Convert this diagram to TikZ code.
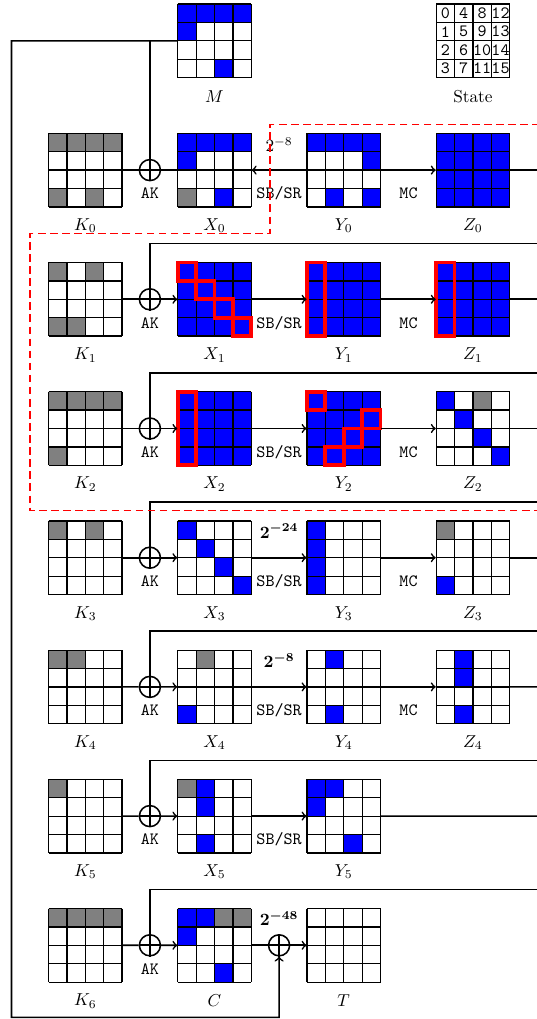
\documentclass[tikz,border=0pt]{standalone}
\usetikzlibrary{calc}
\tikzset{
  gridline/.style={black, line width=0.7pt},
  gridnode/.style={inner sep=0pt, minimum size=42.69pt, draw=none},
  conn/.style={black, line width=0.95pt},
  xorc/.style={circle, draw, line width=0.9pt, minimum size=12.2pt, inner sep=0pt},
  hl/.style={red, line width=2.2pt},
  reddash/.style={red, line width=0.85pt, dash pattern=on 4.4pt off 2.6pt},
  op/.style={font=\ttfamily, inner sep=0pt},
  lbl/.style={inner sep=0pt},
  blbl/.style={inner sep=0pt, font=\boldmath},
}
\newcommand\mkgrid[5]{%
  \begin{scope}[shift={(#2,#3)}]
    \fill[#4] (0,0) rectangle (73.6,73.6);
    \foreach \ri/\ci/\cl in {#5} {\fill[\cl] (\ci*18.4,\ri*18.4) rectangle ++(18.4,18.4);}
    \foreach \ii in {0,...,4} {\draw[gridline] (\ii*18.4,0) -- (\ii*18.4,73.6); \draw[gridline] (0,\ii*18.4) -- (73.6,\ii*18.4);}
  \end{scope}
  \node[gridnode] (#1) at (#2+36.8,#3+36.8) {};
}
\newcommand\hlc[4]{\draw[hl] (#1+#4*18.4,#2+#3*18.4) rectangle ++(18.4,18.4);}
\newcommand\hlcol[3]{\draw[hl] (#1+#3*18.4,#2) rectangle ++(18.4,73.6);}
\begin{document}
\begin{tikzpicture}[x=0.58pt,y=-0.58pt]
\useasboundingbox (0,0) rectangle (536,1019);

% top row
\mkgrid{M}{177.7}{4.1}{white}{0/0/blue,0/1/blue,0/2/blue,0/3/blue,1/0/blue,3/2/blue}
\node[lbl] (lM) at (214.5,96.6) {$M$};
\mkgrid{S}{436.1}{4.1}{white}{0/0/white}
\foreach \ci in {0,...,3} {\foreach \ri in {0,...,3} {
  \pgfmathtruncatemacro\nn{4*\ci+\ri}
  \node[op] (s\nn) at ({436.1+\ci*18.4+9.2},{4.1+\ri*18.4+9.2}) {\nn};}}
\node[lbl] (lS) at (472.9,96.6) {State};

% row 0
\mkgrid{K0}{48.5}{133.3}{white}{0/0/gray,0/1/gray,0/2/gray,0/3/gray,3/0/gray,3/2/gray}
\mkgrid{X0}{177.7}{133.3}{white}{0/0/blue,0/1/blue,0/2/blue,0/3/blue,1/0/blue,3/0/gray,3/2/blue}
\mkgrid{Y0}{306.9}{133.3}{white}{0/0/blue,0/1/blue,0/2/blue,0/3/blue,1/3/blue,3/1/blue,3/3/blue}
\mkgrid{Z0}{436.1}{133.3}{blue}{0/0/blue}
% row 1
\mkgrid{K1}{48.5}{262.5}{white}{0/0/gray,0/2/gray,3/0/gray,3/1/gray}
\mkgrid{X1}{177.7}{262.5}{blue}{0/0/blue}
\mkgrid{Y1}{306.9}{262.5}{blue}{0/0/blue}
\mkgrid{Z1}{436.1}{262.5}{blue}{0/0/blue}
% row 2
\mkgrid{K2}{48.5}{391.7}{white}{0/0/gray,0/1/gray,0/2/gray,0/3/gray,3/0/gray}
\mkgrid{X2}{177.7}{391.7}{blue}{0/0/blue}
\mkgrid{Y2}{306.9}{391.7}{blue}{0/0/blue}
\mkgrid{Z2}{436.1}{391.7}{white}{0/0/blue,0/2/gray,1/1/blue,2/2/blue,3/3/blue}
% row 3
\mkgrid{K3}{48.5}{520.9}{white}{0/0/gray,0/2/gray}
\mkgrid{X3}{177.7}{520.9}{white}{0/0/blue,1/1/blue,2/2/blue,3/3/blue}
\mkgrid{Y3}{306.9}{520.9}{white}{0/0/blue,1/0/blue,2/0/blue,3/0/blue}
\mkgrid{Z3}{436.1}{520.9}{white}{0/0/gray,3/0/blue}
% row 4
\mkgrid{K4}{48.5}{650.1}{white}{0/0/gray,0/1/gray}
\mkgrid{X4}{177.7}{650.1}{white}{0/1/gray,3/0/blue}
\mkgrid{Y4}{306.9}{650.1}{white}{0/1/blue,3/1/blue}
\mkgrid{Z4}{436.1}{650.1}{white}{0/1/blue,1/1/blue,3/1/blue}
% row 5
\mkgrid{K5}{48.5}{779.3}{white}{0/0/gray}
\mkgrid{X5}{177.7}{779.3}{white}{0/0/gray,0/1/blue,1/1/blue,3/1/blue}
\mkgrid{Y5}{306.9}{779.3}{white}{0/0/blue,0/1/blue,1/0/blue,3/2/blue}
% row 6
\mkgrid{K6}{48.5}{908.5}{white}{0/0/gray,0/1/gray,0/2/gray,0/3/gray}
\mkgrid{C}{177.7}{908.5}{white}{0/0/blue,0/1/blue,0/2/gray,0/3/gray,1/0/blue,3/2/blue}
\mkgrid{T}{306.9}{908.5}{white}{0/0/white}

% red highlights
\hlc{177.7}{262.5}{0}{0}\hlc{177.7}{262.5}{1}{1}\hlc{177.7}{262.5}{2}{2}\hlc{177.7}{262.5}{3}{3}
\hlcol{306.9}{262.5}{0}
\hlcol{436.1}{262.5}{0}
\hlcol{177.7}{391.7}{0}
\hlc{306.9}{391.7}{0}{0}\hlc{306.9}{391.7}{1}{3}\hlc{306.9}{391.7}{2}{2}\hlc{306.9}{391.7}{3}{1}

% labels under grids
\node[lbl] (lK0) at (85.3,225.8) {$K_0$};
\node[lbl] (lX0) at (214.5,225.8) {$X_0$};
\node[lbl] (lY0) at (343.7,225.8) {$Y_0$};
\node[lbl] (lZ0) at (472.9,225.8) {$Z_0$};
\node[lbl] (lK1) at (85.3,355.0) {$K_1$};
\node[lbl] (lX1) at (214.5,355.0) {$X_1$};
\node[lbl] (lY1) at (343.7,355.0) {$Y_1$};
\node[lbl] (lZ1) at (472.9,355.0) {$Z_1$};
\node[lbl] (lK2) at (85.3,484.2) {$K_2$};
\node[lbl] (lX2) at (214.5,484.2) {$X_2$};
\node[lbl] (lY2) at (343.7,484.2) {$Y_2$};
\node[lbl] (lZ2) at (472.9,484.2) {$Z_2$};
\node[lbl] (lK3) at (85.3,613.4) {$K_3$};
\node[lbl] (lX3) at (214.5,613.4) {$X_3$};
\node[lbl] (lY3) at (343.7,613.4) {$Y_3$};
\node[lbl] (lZ3) at (472.9,613.4) {$Z_3$};
\node[lbl] (lK4) at (85.3,742.6) {$K_4$};
\node[lbl] (lX4) at (214.5,742.6) {$X_4$};
\node[lbl] (lY4) at (343.7,742.6) {$Y_4$};
\node[lbl] (lZ4) at (472.9,742.6) {$Z_4$};
\node[lbl] (lK5) at (85.3,871.8) {$K_5$};
\node[lbl] (lX5) at (214.5,871.8) {$X_5$};
\node[lbl] (lY5) at (343.7,871.8) {$Y_5$};
\node[lbl] (lK6) at (85.3,1001.0) {$K_6$};
\node[lbl] (lC) at (214.5,1001.0) {$C$};
\node[lbl] (lT) at (343.7,1001.0) {$T$};

% XOR nodes and AK
\foreach \k in {0,...,6} {
  \node[xorc] (o\k) at (149.9,{170.1+129.2*\k}) {};
  \draw[conn] (o\k.north) -- (o\k.south) (o\k.east) -- (o\k.west);
  \node[op] (ak\k) at (149.9,{193.6+129.2*\k}) {AK};
  \draw[conn] (K\k.east) -- (o\k.west);
}
\node[xorc] (ox) at (279.1,945.3) {};
\draw[conn] (ox.north) -- (ox.south) (ox.east) -- (ox.west);

% operation labels
\foreach \k in {0,...,5} {
  \node[op] (sb\k) at (279.1,{193.6+129.2*\k}) {SB/SR};
}
\foreach \k in {0,...,4} {
  \node[op] (mc\k) at (408.5,{193.6+129.2*\k}) {MC};
}
\node[lbl] (p0) at (279.1,144.3) {$2^{-8}$};
\node[blbl] (p3) at (279.1,530.9) {$2^{-24}$};
\node[blbl] (p4) at (279.1,660.1) {$2^{-8}$};
\node[blbl] (p6) at (279.1,918.5) {$2^{-48}$};

% right edge coordinates
\foreach \k in {0,...,5} {\coordinate (e\k) at (540,{170.1+129.2*\k});}
\foreach \k in {1,...,6} {\coordinate (u\k) at (540,{243.6+129.2*(\k-1)});}

% row 0
\draw[conn] (o0.east) -- (X0.west);
\draw[conn,->] (Y0.west) -- (X0.east);
\draw[conn,->] (Y0.east) -- (Z0.west);
\draw[conn] (Z0.east) -- (e0);
% rows 1-4
\foreach \k in {1,...,4} {
  \draw[conn,->] (o\k.east) -- (X\k.west);
  \draw[conn,->] (X\k.east) -- (Y\k.west);
  \draw[conn,->] (Y\k.east) -- (Z\k.west);
  \draw[conn] (Z\k.east) -- (e\k);
}
% row 5
\draw[conn,->] (o5.east) -- (X5.west);
\draw[conn,->] (X5.east) -- (Y5.west);
\draw[conn] (Y5.east) -- (e5);
% row 6
\draw[conn,->] (o6.east) -- (C.west);
\draw[conn] (C.east) -- (ox.west);
\draw[conn,->] (ox.east) -- (T.west);
% loops
\foreach \k in {1,...,6} {\draw[conn] (o\k.north) |- (u\k);}
% message feed
\coordinate (tl) at (11.5,40.9);
\coordinate (j0) at (149.9,40.9);
\coordinate (bl) at (11.5,1017.4);
\draw[conn,->] (M.west) -- (tl) -- (bl) -| (ox.south);
\draw[conn] (j0) -- (o0.north);

% red dashed region
\draw[reddash] (540,124.5) -- (270,124.5) -- (270,233.5) -- (30,233.5) -- (30,510.5) -- (540,510.5);
\end{tikzpicture}
\end{document}
